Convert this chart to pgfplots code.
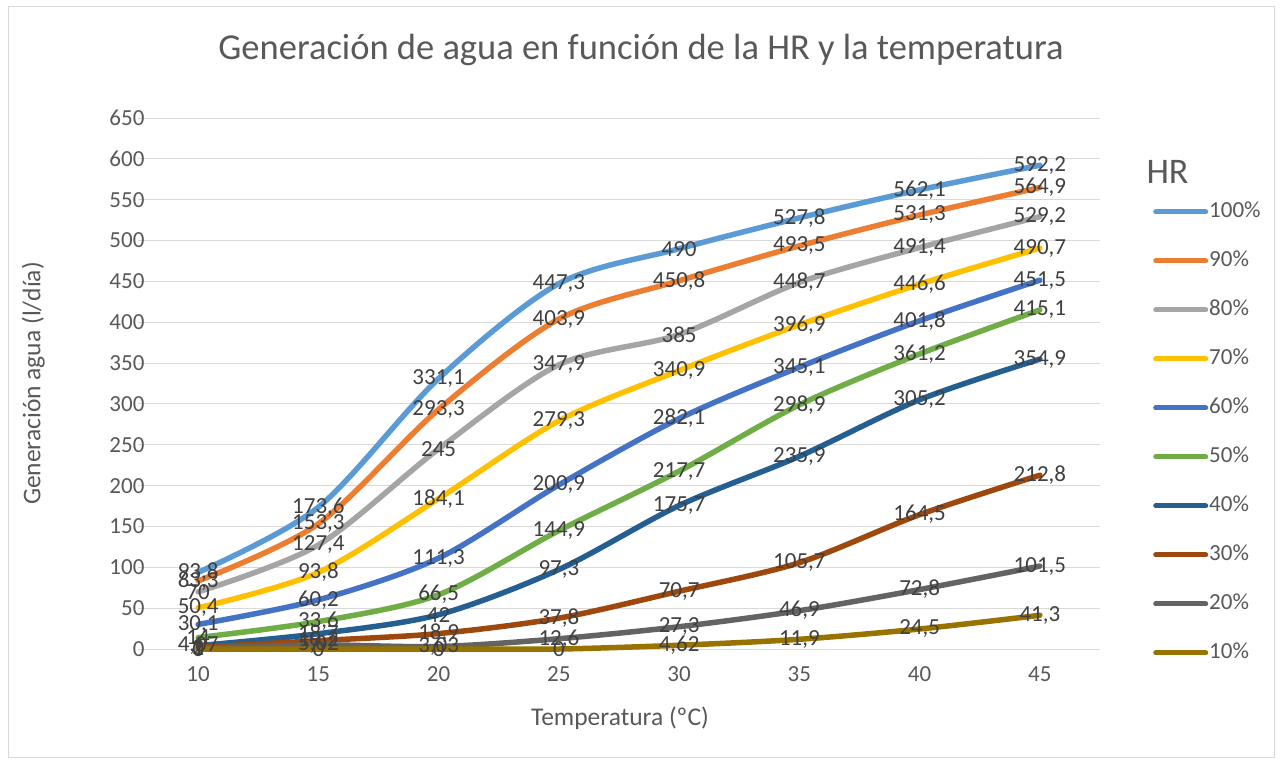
\documentclass[border=0pt]{standalone}
\usepackage{pgfplots}
\usepackage{pgfplotstable}
\pgfplotsset{compat=1.18}
\usepackage{fontspec}
\setmainfont{Carlito}
\definecolor{c100}{HTML}{5B9BD5}
\definecolor{c90}{HTML}{ED7D31}
\definecolor{c80}{HTML}{A5A5A5}
\definecolor{c70}{HTML}{FFC000}
\definecolor{c60}{HTML}{4472C4}
\definecolor{c50}{HTML}{70AD47}
\definecolor{c40}{HTML}{255E91}
\definecolor{c30}{HTML}{9E480E}
\definecolor{c20}{HTML}{636363}
\definecolor{c10}{HTML}{997300}
\definecolor{txt}{HTML}{595959}
\definecolor{lbl}{HTML}{404040}
\definecolor{grd}{HTML}{D9D9D9}
\pgfplotstableread{
T h100 h90 h80 h70 h60 h50 h40 h30 h20 h10
10 93.8 83.3 70 50.4 30.1 14 4.07 2 1 0
15 173.6 153.3 127.4 93.8 60.2 33.6 18.7 10.2 5.02 0
20 331.1 293.3 245 184.1 111.3 66.5 42 18.9 3.03 0
25 447.3 403.9 347.9 279.3 200.9 144.9 97.3 37.8 12.6 0
30 490 450.8 385 340.9 282.1 217.7 175.7 70.7 27.3 4.62
35 527.8 493.5 448.7 396.9 345.1 298.9 235.9 105.7 46.9 11.9
40 562.1 531.3 491.4 446.6 401.8 361.2 305.2 164.5 72.8 24.5
45 592.2 564.9 529.2 490.7 451.5 415.1 354.9 212.8 101.5 41.3
}\data
\begin{document}
\begin{tikzpicture}
\useasboundingbox (0pt,0pt) rectangle (1282pt,-764pt);
\fill[white] (0pt,0pt) rectangle (1282pt,-764pt);
\draw[grd, line width=1pt] (8pt,-6pt) rectangle (1274pt,-757pt);
\node[font=\fontsize{36.5}{40}\selectfont, text=txt] at (641pt,-50pt) {Generación de agua en función de la HR y la temperatura};
\begin{axis}[
  at={(138pt,-649pt)}, anchor=origin,
  scale only axis, width=962pt, height=531pt,
  xmin=7.5, xmax=47.5, ymin=0, ymax=650,
  xtick={10,15,...,45}, ytick={0,50,...,650},
  ymajorgrids, grid style={line width=1pt, grd},
  axis line style={draw=none}, tick style={draw=none},
  ticklabel style={font=\fontsize{23}{26}\selectfont, text=txt},
  xticklabel style={yshift=-14pt},
  yticklabel style={xshift=10pt},
  /pgf/number format/assume math mode=true,
  /pgf/number format/.cd, use comma, 1000 sep={},
  /pgfplots/.cd,
  xlabel={Temperatura (ºC)}, ylabel={Generación agua (l/día)},
  label style={font=\fontsize{25.5}{28}\selectfont, text=txt},
  xlabel style={at={(axis description cs:0.501,-0.13)}, anchor=center},
  ylabel style={at={(axis description cs:-0.109,0.5)}, anchor=center, rotate=0},
  clip=false,
  ln/.style={line width=5.5pt, smooth, mark=none, line cap=round},
  lb/.style={draw=none, mark=none, forget plot, nodes near coords, point meta=y},
  legend style={draw=none, fill=none, at={(axis description cs:1.052,0.848)}, anchor=north west,
    font=\fontsize{23}{26}\selectfont, text=txt, row sep=27pt,
    nodes={inner sep=1pt, text height=16pt, text depth=4pt}},
  legend cell align=left,
  legend image code/.code={\draw[#1, line width=5pt, line cap=round] (0pt,0pt) -- (50pt,0pt);},
  nodes near coords style={font=\fontsize{23}{26}\selectfont, text=lbl, anchor=center, inner sep=0pt},
]
\addplot[ln, c100] table[y=h100]{\data};
\addplot[ln, c90] table[y=h90]{\data};
\addplot[ln, c80] table[y=h80]{\data};
\addplot[ln, c70] table[y=h70]{\data};
\addplot[ln, c60] table[y=h60]{\data};
\addplot[ln, c50] table[y=h50]{\data};
\addplot[ln, c40] table[y=h40]{\data};
\addplot[ln, c30] table[y=h30]{\data};
\addplot[ln, c20] table[y=h20]{\data};
\addplot[ln, c10] table[y=h10]{\data};
\legend{100\%,90\%,80\%,70\%,60\%,50\%,40\%,30\%,20\%,10\%}
\addplot[lb] table[y=h100]{\data};
\addplot[lb] table[y=h90]{\data};
\addplot[lb] table[y=h80]{\data};
\addplot[lb] table[y=h70]{\data};
\addplot[lb] table[y=h60]{\data};
\addplot[lb] table[y=h50]{\data};
\addplot[lb] table[y=h40]{\data};
\addplot[lb] table[y=h30]{\data};
\addplot[lb] table[y=h20]{\data};
\addplot[lb] table[y=h10]{\data};
\end{axis}
\node[anchor=west, font=\fontsize{36}{40}\selectfont, text=txt] at (1143pt,-172pt) {HR};
\end{tikzpicture}
\end{document}
